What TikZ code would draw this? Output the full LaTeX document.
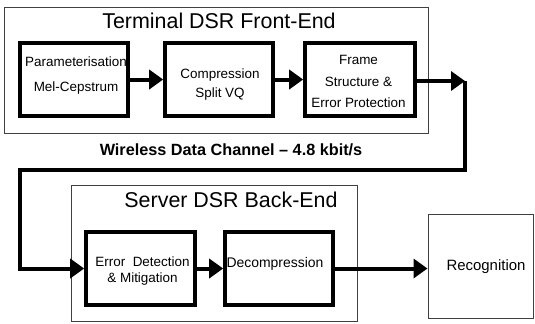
\documentclass[tikz,border=0pt]{standalone}
\usepackage{fontspec}
\setmainfont{Liberation Sans}
\usetikzlibrary{arrows.meta}
\begin{document}
\begin{tikzpicture}[x=1bp,y=-1bp]
\tikzset{
 frame/.style={draw=black!75, line width=1bp, inner sep=0pt},
 blk/.style={draw=black, line width=3.6bp, inner sep=0pt, minimum width=108bp, minimum height=73bp},
 conn/.style={line width=4bp, -{Triangle[length=14bp,width=19bp]}},
 lbl/.style={inner sep=0pt, align=center},
}
\useasboundingbox (0,0) rectangle (535,323);
% frames and blocks
\node[frame, minimum width=423bp, minimum height=126bp] (front) at (216.5,70) {};
\node[blk] (b1) at (74,79.5) {};
\node[blk] (b2) at (219,79.5) {};
\node[blk, minimum width=110bp] (b3) at (360,79.5) {};
\node[frame, minimum width=285bp, minimum height=136bp] (back) at (214.5,253) {};
\node[blk, minimum width=109bp] (edm) at (140.5,268.5) {};
\node[blk] (dec) at (279,268.5) {};
\node[frame, minimum width=105bp, minimum height=104bp] (rec) at (480.5,266) {};
% texts
\node[lbl, anchor=base, font=\fontsize{21.5}{25}\selectfont] (ft) at (219,28) {Terminal DSR Front-End};
\node[lbl, anchor=base, font=\fontsize{21.5}{25}\selectfont] (bt) at (231,207) {Server DSR Back-End};
\node[lbl, anchor=base, font=\bfseries\fontsize{16.3}{19}\selectfont] (wl) at (231,155) {Wireless Data Channel – 4.8 kbit/s};
\node[lbl, font=\fontsize{13.5}{25}\selectfont] (t1) at (76,75.7) {Parameterisation\\Mel-Cepstrum};
\node[lbl, font=\fontsize{13.5}{19}\selectfont] (t2) at (220,84.1) {Compression\\Split VQ};
\node[lbl, font=\fontsize{13.5}{22}\selectfont] (t3) at (358.5,81.5) {Frame\\Structure \&\\Error Protection};
\node[lbl, font=\fontsize{13.5}{16.7}\selectfont] (t4) at (142.5,270.9) {Error\ \ Detection\\\& Mitigation};
\node[lbl, font=\fontsize{14}{17}\selectfont] (t5) at (275,264) {Decompression};
\node[lbl, font=\fontsize{15}{18}\selectfont] (t6) at (486,266.8) {Recognition};
% connectors
\coordinate (c1) at (465,81);
\coordinate (c2) at (20,170);
\draw[conn] (b1) -- (b2);
\draw[conn] (b2) -- (b3);
\draw[conn] (b3.east |- c1) -- (c1);
\draw[conn] (c1) |- (c2) |- (edm.west);
\draw[conn] (edm) -- (dec);
\draw[conn] (dec.east) -- (dec.east -| rec.west);
\end{tikzpicture}
\end{document}
